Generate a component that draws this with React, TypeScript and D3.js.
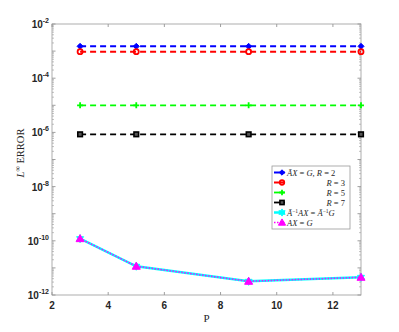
import React from "react";
import * as d3 from "d3";

const P = [3, 5, 9, 13];
const r2 = [1.5e-3, 1.5e-3, 1.5e-3, 1.5e-3];
const r3 = [9.5e-4, 9.5e-4, 9.5e-4, 9.5e-4];
const r5 = [1.0e-5, 1.0e-5, 1.0e-5, 1.0e-5];
const r7 = [8.5e-7, 8.5e-7, 8.5e-7, 8.5e-7];
const precond = [1.2e-10, 1.15e-11, 3.2e-12, 4.5e-12];
const plain = [1.2e-10, 1.15e-11, 3.2e-12, 4.5e-12];
const xTicks = [2, 4, 6, 8, 10, 12];
const yTickExps = [-2, -4, -6, -8, -10, -12];

const W = 399, H = 332;
const L = 52, R = 361, T = 24, B = 295;

export default function App() {
  const x = d3.scaleLinear().domain([2, 13]).range([L, R]);
  const y = d3.scaleLog().domain([1e-12, 1e-2]).range([B, T]);
  const line = d3.line<number>().x((_, i) => x(P[i])).y((d) => y(d));

  const minor: number[] = [];
  for (let e = -12; e < -2; e++) for (let k = 2; k <= 9; k++) minor.push(k * Math.pow(10, e));

  const diamond = (cx: number, cy: number, s: number, c: string, k: string) => (
    <path key={k} d={`M${cx},${cy - s}L${cx + s},${cy}L${cx},${cy + s}L${cx - s},${cy}Z`} fill={c} stroke={c} strokeWidth={1} />
  );
  const circle = (cx: number, cy: number, s: number, c: string, k: string) => (
    <circle key={k} cx={cx} cy={cy} r={s} fill="none" stroke={c} strokeWidth={1.8} />
  );
  const plus = (cx: number, cy: number, s: number, c: string, k: string) => (
    <path key={k} d={`M${cx - s},${cy}H${cx + s}M${cx},${cy - s}V${cy + s}`} stroke={c} strokeWidth={1.8} />
  );
  const square = (cx: number, cy: number, s: number, c: string, k: string) => (
    <rect key={k} x={cx - s} y={cy - s} width={2 * s} height={2 * s} fill="#555" stroke={c} strokeWidth={1.6} />
  );
  const star = (cx: number, cy: number, s: number, c: string, k: string) => {
    const pts: string[] = [];
    for (let i = 0; i < 12; i++) {
      const a = (Math.PI / 6) * i - Math.PI / 2;
      const rr = i % 2 === 0 ? s : s * 0.55;
      pts.push(`${cx + rr * Math.cos(a)},${cy + rr * Math.sin(a)}`);
    }
    return <polygon key={k} points={pts.join(" ")} fill="cyan" stroke={c} strokeWidth={1} />;
  };
  const tri = (cx: number, cy: number, s: number, c: string, k: string) => (
    <path key={k} d={`M${cx},${cy - s}L${cx + s},${cy + s * 0.75}L${cx - s},${cy + s * 0.75}Z`} fill={c} stroke={c} strokeWidth={1} />
  );

  const series = [
    { data: r2, color: "#0000ff", dash: "6,4", w: 2, m: diamond, ms: 3, label: "ÃX = G, R = 2" },
    { data: r3, color: "#ff0000", dash: "6,4", w: 2, m: circle, ms: 2.5, label: "R = 3" },
    { data: r5, color: "#00ff00", dash: "6,4", w: 1.8, m: plus, ms: 3, label: "R = 5" },
    { data: r7, color: "#000000", dash: "6,4", w: 1.8, m: square, ms: 2.3, label: "R = 7" },
    { data: precond, color: "#00ffff", dash: "", w: 2.5, m: star, ms: 4, label: "" },
    { data: plain, color: "#ff00ff", dash: "1.5,1.5", w: 1.5, m: tri, ms: 4, label: "AX = G" },
  ];

  const legX = 272, legY = 166, legW = 78, legH = 63;
  const rowY = [172.5, 182.5, 192.5, 202.5, 212.5, 222.5];
  const tickFont = "Helvetica, 'Liberation Sans', Arial, sans-serif";
  const serif = "'Liberation Serif', 'DejaVu Serif', serif";

  return (
    <svg width={W} height={H} style={{ position: "absolute", left: 0, top: 0, background: "#fff" }}>
      <rect x={0} y={0} width={W} height={H} fill="#fff" />
      {minor.map((v, i) => (
        <g key={"mn" + i} stroke="#999" strokeWidth={0.6}>
          <line x1={L} x2={L + 2} y1={y(v)} y2={y(v)} />
          <line x1={R} x2={R - 2} y1={y(v)} y2={y(v)} />
        </g>
      ))}
      {yTickExps.concat([-3, -5, -7, -9, -11]).map((e) => (
        <g key={"yt" + e} stroke="#777" strokeWidth={0.7}>
          <line x1={L} x2={L + 3.5} y1={y(Math.pow(10, e))} y2={y(Math.pow(10, e))} />
          <line x1={R} x2={R - 3.5} y1={y(Math.pow(10, e))} y2={y(Math.pow(10, e))} />
        </g>
      ))}
      {xTicks.map((t) => (
        <g key={"xt" + t} stroke="#777" strokeWidth={0.7}>
          <line x1={x(t)} x2={x(t)} y1={B} y2={B - 3} />
          <line x1={x(t)} x2={x(t)} y1={T} y2={T + 3} />
        </g>
      ))}
      <rect x={L} y={T} width={R - L} height={B - T} fill="none" stroke="#999" strokeWidth={0.8} />
      {xTicks.map((t) => (
        <text key={"xl" + t} x={x(t)} y={309} textAnchor="middle" fontFamily={tickFont} fontWeight="bold" fontSize={10} fill="#262626">
          {t}
        </text>
      ))}
      {yTickExps.map((e) => (
        <text key={"yl" + e} x={49} y={y(Math.pow(10, e)) + 4} textAnchor="end" fontFamily={tickFont} fontWeight="bold" fontSize={10} fill="#262626">
          10<tspan dy={-5} fontSize={7}>{e}</tspan>
        </text>
      ))}
      <text x={(L + R) / 2} y={322} textAnchor="middle" fontFamily={serif} fontSize={11} fill="#262626">P</text>
      <text transform={`translate(24,${153}) rotate(-90)`} textAnchor="middle" fontFamily={serif} fontSize={10.5} fill="#262626">
        <tspan fontStyle="italic">L</tspan>
        <tspan dy={-4} fontSize={7.5}>∞</tspan>
        <tspan dy={4}> ERROR</tspan>
      </text>
      {series.map((s, si) => (
        <g key={"s" + si}>
          <path d={line(s.data) || ""} fill="none" stroke={s.color} strokeWidth={s.w} strokeDasharray={s.dash || undefined} />
          {s.data.map((v, i) => s.m(x(P[i]), y(v), s.ms, s.color, "m" + si + "-" + i))}
        </g>
      ))}
      <rect x={legX} y={legY} width={legW} height={legH} fill="#fff" stroke="#999" strokeWidth={0.8} />
      {series.map((s, i) => (
        <g key={"lg" + i}>
          <line x1={274} x2={285} y1={rowY[i]} y2={rowY[i]} stroke={s.color} strokeWidth={s.w} strokeDasharray={i === 5 ? "1.5,1.5" : undefined} />
          {s.m(282, rowY[i], s.ms * 0.9, s.color, "lm" + i)}
        </g>
      ))}
      <g fontFamily={serif} fontSize={8.5} fill="#262626">
        <text x={287} y={rowY[0] + 3}>
          <tspan fontStyle="italic">Ã</tspan><tspan fontStyle="italic">X</tspan> = <tspan fontStyle="italic">G</tspan>, <tspan fontStyle="italic">R</tspan> = 2
        </text>
        <text x={345} y={rowY[1] + 3} textAnchor="end"><tspan fontStyle="italic">R</tspan> = 3</text>
        <text x={345} y={rowY[2] + 3} textAnchor="end"><tspan fontStyle="italic">R</tspan> = 5</text>
        <text x={345} y={rowY[3] + 3} textAnchor="end"><tspan fontStyle="italic">R</tspan> = 7</text>
        <text x={287} y={rowY[4] + 3}>
          <tspan fontStyle="italic">Ã</tspan><tspan dy={-3} fontSize={5.5}>−1</tspan><tspan dy={3} fontStyle="italic">AX</tspan> = <tspan fontStyle="italic">Ã</tspan><tspan dy={-3} fontSize={5.5}>−1</tspan><tspan dy={3} fontStyle="italic">G</tspan>
        </text>
        <text x={287} y={rowY[5] + 3}>
          <tspan fontStyle="italic">AX</tspan> = <tspan fontStyle="italic">G</tspan>
        </text>
      </g>
    </svg>
  );
}
